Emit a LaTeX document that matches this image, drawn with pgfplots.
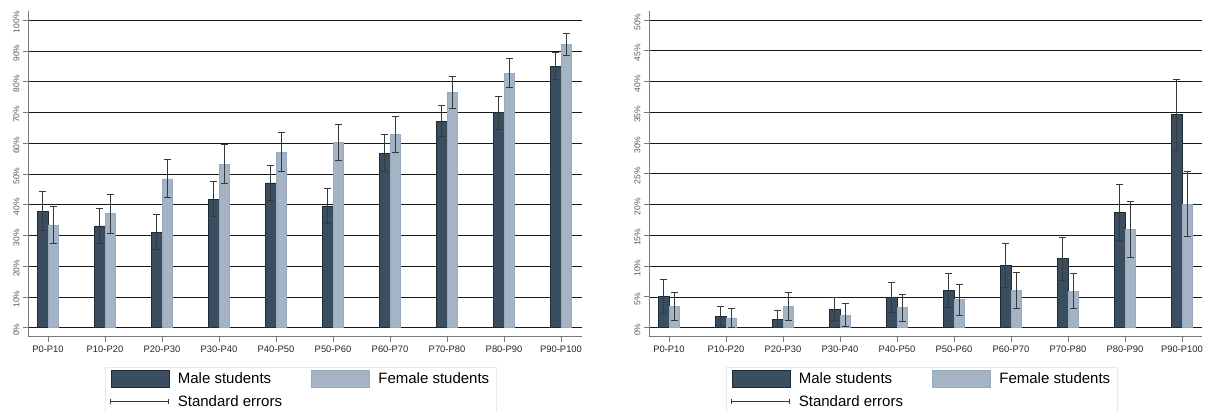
\documentclass[border=0pt]{standalone}
\usepackage{fontspec}
\setmainfont{Liberation Sans}
\usepackage{pgfplots}
\pgfplotsset{compat=1.18}

\definecolor{maleC}{HTML}{3B4E5F}
\definecolor{maleE}{HTML}{1C2B38}
\definecolor{femC}{HTML}{A4B4C4}
\definecolor{femE}{HTML}{97AABD}
\definecolor{errC}{HTML}{383838}
\definecolor{axC}{HTML}{7A7A7A}
\definecolor{legC}{HTML}{E3EAF0}

\pgfplotsset{
  panel/.style={
    scale only axis, height=326pt,
    axis lines=left, axis line style={-, draw=axC, line width=1pt},
    ybar=0pt, bar width=10.5pt,
    xtick={0,...,9},
    xticklabels={P0-P10,P10-P20,P20-P30,P30-P40,P40-P50,P50-P60,P60-P70,P70-P80,P80-P90,P90-P100},
    tick align=outside, major tick length=5pt,
    tick style={draw=axC, line width=0.9pt},
    ymajorgrids, grid style={black!90, line width=0.8pt},
    x tick label style={font=\fontsize{9.4}{10}\selectfont, text=black!85},
    y tick label style={font=\fontsize{8.5}{9}\selectfont, text=black!65, rotate=90, anchor=south, xshift=-2pt},
    xmin=-0.351,
    legend columns=2, legend cell align=left,
    legend style={at={(0,0)}, anchor=north west, xshift=77pt, yshift=-30pt,
      draw=legC, line width=0.8pt, fill=white,
      font=\fontsize{15}{16}\selectfont,
      inner xsep=5pt, inner ysep=3pt, row sep=6pt,
      /tikz/every even column/.append style={column sep=27pt}},
  },
  malebar/.style={fill=maleC, draw=maleE, line width=0.6pt, bar shift=-5.25pt,
    error bars/.cd, y dir=both, y explicit,
    error bar style={errC, line width=1pt},
    error mark options={rotate=90, mark size=3.6pt, line width=1pt, errC}},
  fembar/.style={fill=femC, draw=femE, line width=0.6pt, bar shift=5.25pt,
    error bars/.cd, y dir=both, y explicit,
    error bar style={errC, line width=1pt},
    error mark options={rotate=90, mark size=3.6pt, line width=1pt, errC}},
  legmale/.style={legend image code/.code={\draw[fill=maleC, draw=maleE, line width=0.6pt] (0pt,-8.3pt) rectangle (58pt,8.3pt); \path[draw=none, fill=none] (0pt,0pt) -- (65pt,0pt);}},
  legfem/.style={legend image code/.code={\draw[fill=femC, draw=femE, line width=0.6pt] (0pt,-8.3pt) rectangle (58pt,8.3pt); \path[draw=none, fill=none] (0pt,0pt) -- (65pt,0pt);}},
  legerr/.style={legend image code/.code={\draw[errC, line width=0.9pt] (0pt,0pt) -- (58pt,0pt) (0pt,-2.5pt) -- (0pt,2.5pt) (58pt,-2.5pt) -- (58pt,2.5pt); \path[draw=none, fill=none] (0pt,0pt) -- (65pt,0pt);}},
}

\begin{document}
\begin{tikzpicture}
% ---------------- left panel ----------------
\begin{axis}[panel, at={(28pt,75pt)}, anchor=south west, width=554pt,
  xmax=9.368, ymin=-3, ymax=103,
  ytick={0,10,...,100},
  yticklabels={0\%,10\%,20\%,30\%,40\%,50\%,60\%,70\%,80\%,90\%,100\%}]
\addplot[forget plot, malebar] coordinates {
 (0,37.9) +- (0,6.3)
 (1,33.1) +- (0,5.7)
 (2,31.1) +- (0,5.7)
 (3,41.8) +- (0,5.7)
 (4,47.1) +- (0,5.7)
 (5,39.6) +- (0,5.7)
 (6,56.8) +- (0,6.0)
 (7,67.2) +- (0,5.1)
 (8,69.9) +- (0,5.3)
 (9,85.0) +- (0,4.4)
};
\addplot[forget plot, fembar] coordinates {
 (0,33.4) +- (0,6.0)
 (1,37.1) +- (0,6.3)
 (2,48.4) +- (0,6.2)
 (3,53.2) +- (0,6.4)
 (4,57.2) +- (0,6.4)
 (5,60.3) +- (0,5.9)
 (6,62.8) +- (0,5.9)
 (7,76.5) +- (0,5.2)
 (8,82.8) +- (0,4.7)
 (9,92.1) +- (0,3.6)
};
\addlegendimage{legmale}
\addlegendimage{legfem}
\addlegendimage{legerr}
\legend{Male students, Female students, Standard errors}
\end{axis}
% ---------------- right panel ----------------
\begin{axis}[panel, at={(649pt,75pt)}, anchor=south west, width=553pt,
  xmax=9.351, ymin=-1.51, ymax=51.46,
  ytick={0,5,...,50},
  yticklabels={0\%,5\%,10\%,15\%,20\%,25\%,30\%,35\%,40\%,45\%,50\%}]
\addplot[forget plot, malebar] coordinates {
 (0,5.1) +- (0,2.8)
 (1,1.9) +- (0,1.6)
 (2,1.36) +- (0,1.4)
 (3,3.0) +- (0,1.9)
 (4,4.9) +- (0,2.45)
 (5,6.08) +- (0,2.8)
 (6,10.1) +- (0,3.6)
 (7,11.2) +- (0,3.45)
 (8,18.7) +- (0,4.5)
 (9,34.6) +- (0,5.75)
};
\addplot[forget plot, fembar] coordinates {
 (0,3.5) +- (0,2.3)
 (1,1.58) +- (0,1.6)
 (2,3.5) +- (0,2.25)
 (3,2.06) +- (0,1.8)
 (4,3.25) +- (0,2.2)
 (5,4.55) +- (0,2.5)
 (6,6.0) +- (0,2.95)
 (7,5.96) +- (0,2.9)
 (8,16.0) +- (0,4.55)
 (9,20.05) +- (0,5.3)
};
\addlegendimage{legmale}
\addlegendimage{legfem}
\addlegendimage{legerr}
\legend{Male students, Female students, Standard errors}
\end{axis}
\pgfresetboundingbox
\path (0pt,0pt) rectangle (1208pt,412pt);
\end{tikzpicture}
\end{document}
